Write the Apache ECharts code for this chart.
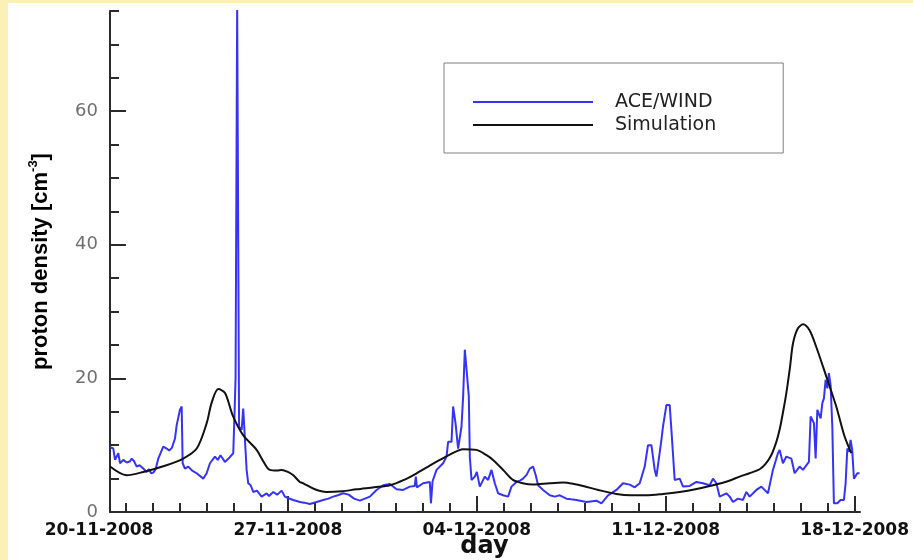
<!DOCTYPE html>
<html>
<head>
<meta charset="utf-8">
<script src="https://cdn.jsdelivr.net/npm/echarts@6/dist/echarts.min.js"></script>
<style>
  html, body { margin: 0; padding: 0; width: 913px; height: 560px; overflow: hidden; background: #fbf1b6; }
  #chart { position: absolute; left: 8px; top: 3px; width: 905px; height: 557px; background: #ffffff; }
</style>
</head>
<body>
<div id="chart"></div>
<script>
// Tick labels on the time axis (days counted from 20-11-2008 00:00)
const dateLabels = ['20-11-2008', '27-11-2008', '04-12-2008', '11-12-2008', '18-12-2008'];
const dateLabelDays = [0, 7, 14, 21, 28];
const densityLabels = [0, 20, 40, 60];

// Measured proton density (ACE/WIND)
const aceDays = [
  0.407, 0.53, 0.593, 0.715, 0.778, 0.9, 1.026, 1.15, 1.211, 1.3, 1.396, 1.5, 1.641, 1.767, 1.85, 1.93,
  2.011, 2.1, 2.196, 2.381, 2.507, 2.6, 2.7, 2.815, 2.878, 3.0, 3.063, 3.1, 3.185, 3.307, 3.45, 3.619,
  3.863, 3.989, 4.111, 4.296, 4.4, 4.5, 4.667, 4.8, 4.974, 5.011, 5.06, 5.12, 5.16, 5.19, 5.285, 5.344,
  5.389, 5.47, 5.53, 5.62, 5.715, 5.85, 6.026, 6.211, 6.3, 6.456, 6.6, 6.767, 6.889, 7.0, 7.196, 7.444,
  7.6, 7.815, 8.063, 8.307, 8.5, 8.678, 8.85, 9.048, 9.25, 9.45, 9.667, 9.85, 10.037, 10.285, 10.53,
  10.778, 11.026, 11.27, 11.519, 11.7, 11.74, 11.78, 12.011, 12.259, 12.3, 12.36, 12.507, 12.752, 12.878,
  12.937, 13.063, 13.122, 13.211, 13.307, 13.433, 13.493, 13.556, 13.619, 13.704, 13.741, 13.804, 13.926,
  14.0, 14.111, 14.296, 14.419, 14.544, 14.667, 14.789, 14.974, 15.159, 15.285, 15.47, 15.6, 15.715,
  15.85, 15.963, 16.085, 16.185, 16.27, 16.456, 16.704, 16.889, 17.074, 17.322, 17.5, 17.693, 18.063,
  18.433, 18.619, 18.863, 19.174, 19.419, 19.667, 19.852, 20.037, 20.222, 20.344, 20.47, 20.593, 20.656,
  20.841, 20.9, 21.026, 21.148, 21.211, 21.333, 21.519, 21.641, 21.889, 22.137, 22.381, 22.63, 22.752,
  22.878, 23.0, 23.248, 23.37, 23.493, 23.678, 23.863, 23.989, 24.111, 24.359, 24.544, 24.789, 24.974,
  25.159, 25.222, 25.344, 25.47, 25.656, 25.778, 25.963, 26.085, 26.307, 26.37, 26.493, 26.556, 26.619,
  26.741, 26.804, 26.863, 26.926, 26.989, 27.048, 27.111, 27.174, 27.233, 27.359, 27.481, 27.604, 27.667,
  27.73, 27.79, 27.852, 27.91, 27.976, 28.1, 28.185
];
const aceDensity = [
  9.7, 9.5, 7.8, 8.8, 7.3, 7.8, 7.4, 7.6, 8.0, 7.6, 6.8, 7.0, 6.5, 6.0, 6.4, 5.8,
  5.9, 6.4, 8.0, 9.8, 9.5, 9.2, 9.6, 11.0, 13.0, 15.3, 15.8, 7.3, 6.5, 6.8, 6.2, 5.8,
  5.0, 5.8, 7.3, 8.3, 7.8, 8.5, 7.5, 8.0, 8.8, 13.3, 20.0, 76.0, 76.0, 12.8, 12.3, 15.5,
  15.3, 6.3, 4.3, 4.0, 3.0, 3.2, 2.3, 2.8, 2.4, 3.0, 2.6, 3.2, 2.3, 2.1, 1.8, 1.5,
  1.4, 1.2, 1.5, 1.8, 2.0, 2.3, 2.5, 2.8, 2.6, 2.0, 1.7, 2.0, 2.3, 3.3, 4.0,
  4.2, 3.4, 3.3, 3.8, 3.9, 5.3, 3.7, 4.3, 4.5, 1.3, 4.6, 6.3, 7.3, 8.3,
  10.5, 10.5, 15.8, 13.3, 9.5, 12.8, 17.3, 24.3, 24.3, 17.3, 8.3, 4.8, 5.3,
  6.0, 3.8, 5.3, 4.8, 6.3, 4.3, 2.8, 2.5, 2.3, 3.8, 4.5, 4.7, 5.0,
  5.6, 6.5, 6.8, 5.5, 4.0, 3.3, 2.5, 2.3, 2.5, 2.0, 1.9, 1.8, 1.5,
  1.7, 1.3, 2.5, 3.3, 4.3, 4.1, 3.7, 4.3, 6.8, 10.0, 10.0, 6.3, 5.3,
  10.8, 12.8, 16.0, 16.0, 12.3, 4.8, 5.0, 3.8, 3.9, 4.5, 4.3, 4.0, 5.0,
  4.3, 2.3, 2.8, 2.3, 1.5, 2.0, 1.8, 3.0, 2.3, 3.3, 3.8, 2.8, 6.3,
  8.8, 9.3, 7.3, 8.3, 8.0, 5.8, 6.8, 6.3, 7.5, 14.3, 13.3, 8.0, 15.3,
  14.0, 16.3, 17.0, 19.8, 18.5, 20.8, 19.0, 12.8, 1.3, 1.3, 1.8, 1.8, 4.3,
  9.5, 9.0, 10.8, 9.3, 5.0, 5.8, 5.8
];

// Model output (Simulation)
const simDays = [
  0.41, 1.02, 1.64, 2.5, 3.12, 3.62, 3.99, 4.17, 4.42, 4.67, 4.97, 5.34, 5.84, 6.1, 6.33, 6.6, 6.77,
  7.0, 7.2, 7.44, 7.57, 8.0, 8.43, 9.0, 9.54, 10.2, 10.78, 11.3, 11.77, 12.2, 12.63, 13.0, 13.49, 13.99,
  14.36, 14.6, 15.0, 15.34, 15.7, 16.09, 16.7, 17.2, 17.6, 17.94, 18.5, 19.17, 19.7, 20.28, 20.9, 21.52,
  22.1, 22.75, 23.3, 23.74, 24.1, 24.48, 24.7, 24.91, 25.1, 25.22, 25.35, 25.47, 25.6, 25.72, 25.9,
  26.09, 26.33, 26.58, 26.95, 27.32, 27.63, 27.88
];
const simDensity = [
  6.8, 5.5, 6.0, 7.0, 8.0, 9.5, 13.3, 16.3, 18.4, 17.8, 14.3, 11.5, 9.3, 7.5, 6.3, 6.2, 6.3,
  6.0, 5.5, 4.5, 4.3, 3.4, 3.0, 3.1, 3.4, 3.7, 4.0, 4.8, 5.8, 6.8, 7.8, 8.6, 9.4, 9.3,
  8.5, 7.8, 6.2, 4.8, 4.3, 4.1, 4.3, 4.4, 4.2, 3.9, 3.3, 2.7, 2.5, 2.5, 2.7, 3.0,
  3.4, 4.0, 4.6, 5.3, 5.8, 6.4, 7.2, 8.5, 10.5, 12.3, 15.0, 17.8, 21.5, 25.3, 27.5,
  28.1, 27.2, 24.7, 20.3, 15.8, 11.3, 8.8
];

const pair = (xs, ys) => xs.map((x, i) => [x, ys[i]]);
const dayTicks = Array.from({ length: 28 }, (_, i) => i + 1);
const weekTicks = [7, 14, 21, 28];

const axisColor = '#2a2a2a';
const X_MIN = 0.407, X_MAX = 28.2, Y_MAX = 75;

const chart = echarts.init(document.getElementById('chart'), null, { renderer: 'canvas' });
chart.setOption({
  animation: false,
  backgroundColor: '#ffffff',
  grid: [
    { left: 102, right: 53, top: 8, bottom: 48, containLabel: false, outerBoundsMode: 'none' },
    { left: 91, right: 53, top: 8, bottom: 48, containLabel: false, outerBoundsMode: 'none' }
  ],
  legend: {
    orient: 'vertical',
    left: 436, top: 60,
    data: ['ACE/WIND', 'Simulation'],
    itemWidth: 120, itemHeight: 14, itemGap: 3,
    padding: [29, 67, 18, 28],
    borderColor: '#808080', borderWidth: 1,
    itemStyle: { opacity: 0 },
    textStyle: { fontFamily: 'DejaVu Sans', fontSize: 19, color: '#222', padding: [0, 0, 0, 17], lineHeight: 20 }
  },
  xAxis: [
    {
      type: 'value', gridIndex: 0, position: 'bottom', min: X_MIN, max: X_MAX,
      axisLine: { show: true, onZero: false, lineStyle: { color: axisColor, width: 2 } },
      axisTick: { show: true, inside: true, length: 9, customValues: dayTicks, lineStyle: { color: axisColor, width: 2 } },
      axisLabel: { show: false }, splitLine: { show: false }
    },
    {
      type: 'value', gridIndex: 0, position: 'bottom', min: X_MIN, max: X_MAX,
      axisLine: { show: false, onZero: false },
      axisTick: { show: true, inside: true, length: 16, customValues: weekTicks, lineStyle: { color: axisColor, width: 2 } },
      axisLabel: { show: false }, splitLine: { show: false }
    },
    {
      type: 'value', gridIndex: 1, position: 'bottom', min: 0, max: X_MAX,
      axisLine: { show: false, onZero: false }, axisTick: { show: false }, splitLine: { show: false },
      axisLabel: {
        customValues: dateLabelDays, margin: 10,
        fontFamily: 'DejaVu Sans', fontWeight: 'bold', fontSize: 17, color: '#111',
        formatter: v => dateLabels[dateLabelDays.indexOf(Math.round(v))]
      },
      name: 'day', nameLocation: 'middle', nameGap: 23, nameMoveOverlap: false,
      nameTextStyle: { fontFamily: 'DejaVu Sans', fontWeight: 'bold', fontSize: 24, color: '#111', padding: [0, 0, 0, 10] }
    }
  ],
  yAxis: [
    {
      type: 'value', gridIndex: 0, position: 'left', min: 0, max: Y_MAX, interval: 5,
      axisLine: { show: true, onZero: false, lineStyle: { color: axisColor, width: 2 } },
      axisTick: { show: true, inside: true, length: 9, lineStyle: { color: axisColor, width: 2 } },
      axisLabel: { customValues: densityLabels, margin: 12, fontFamily: 'DejaVu Sans', fontSize: 18, color: '#707070' },
      splitLine: { show: false },
      name: '{b|proton density [cm}{s|-3}{b|]}', nameLocation: 'middle', nameGap: 58, nameRotate: 90,
      nameMoveOverlap: false,
      nameTextStyle: {
        rich: {
          b: { fontFamily: 'Liberation Sans', fontWeight: 'bold', fontSize: 22, color: '#000', lineHeight: 25, verticalAlign: 'bottom' },
          s: { fontFamily: 'Liberation Sans', fontWeight: 'bold', fontSize: 13, color: '#000', lineHeight: 25, verticalAlign: 'top' }
        }
      }
    },
    {
      type: 'value', gridIndex: 0, position: 'left', min: 0, max: Y_MAX,
      axisLine: { show: false, onZero: false },
      axisTick: { show: true, inside: true, length: 16, customValues: densityLabels, lineStyle: { color: axisColor, width: 2 } },
      axisLabel: { show: false }, splitLine: { show: false }
    },
    { type: 'value', gridIndex: 1, position: 'left', min: 0, max: Y_MAX, show: false }
  ],
  series: [
    {
      name: 'ACE/WIND', type: 'line', xAxisIndex: 0, yAxisIndex: 0,
      data: pair(aceDays, aceDensity),
      symbol: 'none', clip: true,
      lineStyle: { color: '#3434f2', width: 2 },
      itemStyle: { color: '#3434f2' }
    },
    {
      name: 'Simulation', type: 'line', xAxisIndex: 0, yAxisIndex: 0,
      data: pair(simDays, simDensity),
      symbol: 'none', smooth: 0.3, clip: true,
      lineStyle: { color: '#111111', width: 2 },
      itemStyle: { color: '#111111' }
    }
  ]
});
</script>
</body>
</html>
